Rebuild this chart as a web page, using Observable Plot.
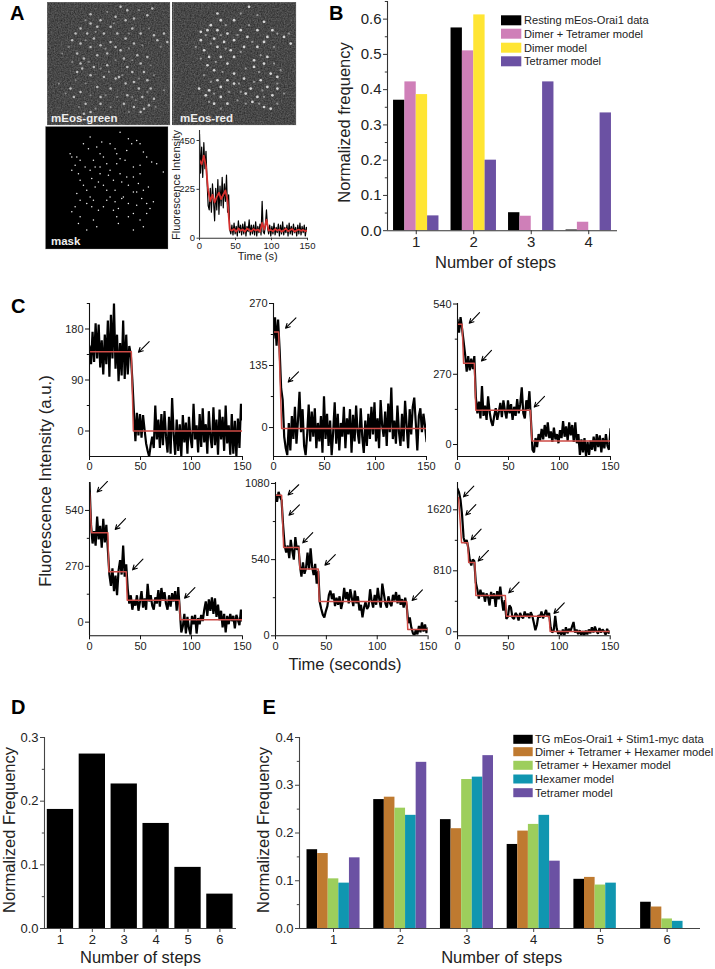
<!DOCTYPE html>
<html><head><meta charset="utf-8">
<script src="https://cdn.jsdelivr.net/npm/d3@7"></script>
<script src="https://cdn.jsdelivr.net/npm/@observablehq/plot@0.6"></script>
<style>
html,body{margin:0;padding:0;background:#fff}
#root{position:relative;width:715px;height:969px;overflow:hidden;font-family:"Liberation Sans",Arial,sans-serif}
#root svg{position:absolute;overflow:visible;background:transparent}
</style></head><body><div id="root"></div>
<script>
// ---------- Panel B ----------
const stepsB=[1,2,3,4];
const restingData=[.370,.575,.051,.002];
const dimerTetramer=[.422,.510,.041,.024];
const dimerModel=[.386,.612,0,0];
const tetramerB=[.042,.200,.422,.334];
const namesB=["Resting mEos-Orai1 data","Dimer + Tetramer model","Dimer model","Tetramer model"];
const colorsB=["#000000","#CF7FB8","#FFE533","#6B51A3"];
// ---------- Panel D ----------
const stepsD=[1,2,3,4,5,6];
const freqD=[.187,.274,.227,.165,.096,.054];
// ---------- Panel E ----------
const stepsE=[1,2,3,4,5,6];
const tgData=[.165,.270,.228,.176,.103,.055];
const dimTetHex=[.157,.275,.209,.204,.107,.045];
const tetHex=[.104,.252,.312,.218,.091,.020];
const hexModel=[.095,.237,.317,.237,.095,.015];
const tetModelE=[.148,.348,.362,.141,null,null];
const namesE=["TG mEos-Orai1 + Stim1-myc data","Dimer + Tetramer + Hexamer model","Tetramer + Hexamer model","Hexamer model","Tetramer model"];
const colorsE=["#000000","#BF7A30","#9DCE5C","#1096B0","#6B51A3"];
// ---------- Panel C traces, one reading every 1.5 s ----------
const traceC1=[150,118,175,122,190,128,188,112,160,100,170,118,195,96,205,128,225,110,170,88,155,98,195,92,170,100,150,135,90,
35,-18,32,-8,30,-12,28,2,-22,-35,-45,-25,-10,-30,45,-15,20,-30,30,-25,35,-10,-38,25,-40,58,-5,-42,20,-35,12,-45,28,-20,15,-40,25,-12,-30,48,-15,10,-38,30,-28,40,-20,12,-40,35,-10,-30,42,-25,20,-42,38,-15,25,-35,45,-22,10,-42,30,-40,18,-45,22,-30,48,20];
const traceC2=[195,240,178,235,170,85,60,-20,-45,-60,10,-50,25,-25,45,-35,15,78,-10,40,-40,-60,-15,50,-30,35,-20,42,-45,10,-30,25,-55,68,-25,30,-40,15,-60,-10,55,-35,30,-50,10,-20,45,-45,20,-15,40,-55,28,-30,48,-10,-35,42,-20,-55,15,-40,30,-25,45,-15,55,-30,20,-45,60,5,-20,35,-40,52,-10,87,-25,15,-35,48,-10,-40,30,-30,58,5,-45,40,-15,45,65,10,-50,25,42,-10,30,5,-30];
const traceC3=[480,430,490,445,395,345,280,340,285,330,290,340,180,120,165,100,225,110,150,95,185,125,90,72,110,140,95,125,160,105,170,130,100,170,120,155,95,145,110,175,120,155,220,120,100,170,135,205,95,-20,-30,25,-10,40,15,60,20,75,30,85,25,50,10,65,20,40,5,55,25,90,30,70,15,85,35,75,10,85,5,40,-40,20,-30,25,-45,10,-40,15,-20,30,-25,40,-10,35,-30,25,-15,40,-5,-20,60];
const traceC4=[675,470,380,440,370,510,400,465,360,500,385,470,350,230,175,260,150,225,130,250,300,230,370,220,280,160,90,130,60,105,80,130,55,100,150,70,115,60,185,100,130,80,60,120,90,155,75,165,110,145,90,60,130,75,140,100,150,55,170,60,-50,-20,40,-55,25,-30,-60,30,-10,35,-55,20,-10,35,5,60,100,30,110,55,120,40,115,25,85,10,55,-25,40,-50,30,-10,40,5,30,-30,35,10,-15,60,5];
const traceC5=[1000,950,1020,985,960,780,640,590,640,550,680,600,540,700,610,640,500,420,520,440,480,590,470,620,490,430,510,370,460,240,190,150,130,175,210,290,320,260,300,210,270,220,280,190,240,340,260,310,230,330,270,210,320,230,280,180,220,130,200,240,190,210,330,250,200,290,220,340,260,200,370,300,230,200,280,230,210,290,250,310,230,290,220,260,200,270,210,90,130,60,20,0,45,10,70,25,95,30,80,20,55];
const traceC6=[1900,1850,1750,1550,1250,1180,1220,1120,960,880,960,940,650,560,440,560,470,520,400,510,460,350,530,440,510,330,540,430,600,430,280,420,170,200,350,320,190,170,250,220,150,250,200,180,270,200,240,180,260,210,120,20,90,220,190,270,180,230,290,200,250,60,-10,20,210,40,-30,10,-40,30,-50,60,-20,40,10,70,130,-10,30,-30,20,-40,10,-50,15,-35,30,-20,60,-10,70,10,-25,50,-10,30,5,-40,40,-20,10];
// ---------- Fitted steps: [time, level] ----------
const fitC1=[[0,140],[41,140],[43,0],[150,0]];
const fitC2=[[0,208],[5,208],[8,-2],[150,-2]];
const fitC3=[[0,462],[4.5,462],[6,312],[16.5,312],[18,132],[71.5,132],[73,14],[150,14]];
const fitC4=[[0,627],[2,432],[18,432],[19,243],[36,243],[37,106],[88,106],[89,11],[150,11]];
const fitC5=[[0,996],[6,996],[8,626],[23,626],[24,474],[42,474],[43,243],[129,243],[130,45],[150,45]];
const fitC6=[[0,1784],[1,1784],[4,1182],[10,1182],[11,921],[17,921],[18,482],[47,482],[48,208],[90,208],[91,4],[150,4]];
// ---------- Arrows: [tail t, tail level, head t, head level] ----------
const arrowsC1=[[58.5,157.6,48,138.9]];
const arrowsC2=[[22,238.8,11.8,216.3],[24.5,121.4,14.4,99]];
const arrowsC3=[[21.6,507,11.5,466],[33.3,362,23.5,321],[85.3,185,75.2,144]];
const arrowsC4=[[17.6,680,7.5,629],[35.3,500,25.2,448],[52.4,305,42.2,253],[103.3,167.4,93.2,116]];
const arrowsC5=[[22.8,1071,12.4,999],[23.5,928,13.3,855],[36.6,732,26.8,659],[58.8,576,48.6,501],[144.4,326,134.3,250]];
const arrowsC6=[[16,1935,5.9,1793],[18,1690,8.2,1550],[23.2,1364,13.4,1222],[30.4,1080,20.3,939],[60.5,660,50.4,518],[104.9,385,94.8,243]];
// ---------- Panel A inset ----------
const insetRaw=[480,300,420,280,440,320,400,260,150,130,230,120,250,170,80,230,130,270,110,240,150,280,140,250,170,290,120,200,40,20,60,15,70,20,55,10,80,25,60,15,65,20,75,10,55,30,85,15,60,20,60,15,75,10,55,25,65,15,170,30,20,60,130,50,20,60,10,55,20,70,15,50,25,65,10,60,20,75,15,50,25,60,10,70,20,55,15,65,25,50,10,60,20,70,15,55,25,60,10,50,30];
const insetSmooth=[360,340,380,330,220,170,200,165,190,210,180,200,220,170,40,35,42,30,45,35,40,30,45,38,32,42,35,40,30,70,40,85,35,38,32,42,35,40,30,36,44,32,38,42,30,36,40,34,38,32,36]; // one reading every 3 s
// ---------- Panel A images: bright spots, read in picture coordinates ----------
const spotsGreen=[[270,42],[360,20],[380,30],[455,25],[300,60],[345,50],[375,60],[400,55],[440,45],[270,70],[240,85],[290,80],[330,80],[395,85],[225,100],[260,100],[310,100],[350,100],[420,100],[460,105],[490,100],[215,120],[280,115],[330,125],[375,115],[470,120],[500,125],[240,130],[270,140],[300,135],[345,140],[360,150],[400,130],[230,160],[250,175],[290,165],[320,160],[370,175],[410,165],[440,170],[240,190],[245,205],[280,200],[320,195],[380,200],[420,190],[230,215],[270,225],[310,230],[345,235],[355,230],[395,215],[430,215],[400,245],[440,240],[375,250],[210,265],[240,275],[290,260],[330,265],[415,265],[450,265],[380,285],[425,290],[460,295],[220,290],[300,290],[255,310],[300,310],[370,310],[400,320],[430,325],[445,315],[250,340],[270,335],[420,335]];
const faintGreen=[[255,60],[320,35],[415,30],[285,95],[340,70],[385,100],[445,85],[205,140],[255,120],[315,145],[385,145],[425,135],[480,140],[215,185],[265,185],[300,205],[345,180],[395,180],[450,195],[225,240],[255,250],[325,215],[365,225],[415,235],[460,225],[195,280],[270,285],[315,285],[350,290],[395,290],[440,275],[235,320],[285,325],[330,320],[385,335],[405,300],[465,320],[185,160],[175,250],[490,270]];
const spotsRed=[[745,20],[650,40],[660,60],[630,75],[700,60],[790,65],[620,90],[650,90],[680,100],[600,95],[720,90],[770,90],[815,90],[600,120],[640,115],[670,125],[700,120],[740,110],[800,110],[850,110],[870,130],[610,150],[650,140],[690,150],[730,140],[770,140],[790,125],[625,170],[660,170],[700,170],[760,180],[800,170],[620,195],[640,210],[680,190],[700,220],[760,200],[790,190],[830,230],[650,240],[680,240],[730,235],[780,240],[810,220],[595,265],[625,270],[660,260],[700,250],[750,265],[800,260],[830,265],[615,285],[660,290],[735,280],[770,290],[815,285],[640,310],[680,310],[755,305],[790,320],[810,325]];
const faintRed=[[720,40],[770,45],[675,75],[745,75],[830,100],[615,105],[660,105],[710,105],[585,140],[630,130],[675,145],[755,125],[820,140],[600,175],[645,185],[720,155],[780,165],[820,190],[610,225],[665,215],[735,205],[775,215],[840,210],[630,245],[715,250],[760,245],[830,250],[640,280],[685,275],[720,275],[785,270],[850,280],[625,305],[710,300],[735,310],[775,310],[830,310],[660,325],[790,290],[865,100]];
const spotsMask=[[270,410],[360,395],[420,430],[210,460],[240,480],[290,440],[330,430],[380,450],[440,470],[470,490],[490,515],[215,510],[270,510],[310,470],[350,490],[400,500],[240,540],[300,520],[340,540],[380,530],[420,520],[260,570],[230,580],[320,570],[370,590],[400,575],[430,570],[215,635],[240,650],[280,600],[310,620],[345,605],[365,595],[440,610],[460,605],[350,650],[400,640],[440,640],[290,680],[260,690],[400,690],[430,680],[410,420],[230,470],[280,480],[350,460],[250,430],[295,545],[275,620],[410,615],[355,625],[385,415],[300,500],[330,510],[255,500],[345,570],[415,550],[385,555],[320,600],[215,470],[265,445],[305,425],[345,445],[395,430],[430,455],[455,485],[225,495],[285,500],[320,490],[375,480],[420,495],[235,520],[275,535],[325,525],[360,520],[400,530],[250,555],[285,560],[310,555],[365,545],[410,575],[445,560],[240,600],[260,610],[295,630],[330,590],[385,610],[425,595],[225,620],[235,670],[280,660],[355,670],[385,650],[420,660],[450,625],[300,460],[360,475],[270,590],[340,630]];

const root=document.getElementById("root");
const FONT='"Liberation Sans",Arial,sans-serif';
const M=40;
function panel({l,r,t,b,xd,yd,xt,yt,xm=[],ym=[],fs=11,fmt=String,col="#111",ts=4,marks=[]}){
  const svg=Plot.plot({width:r-l+2*M,height:b-t+2*M,marginLeft:M,marginRight:M,marginTop:M,marginBottom:M,
    x:{domain:xd},y:{domain:yd},
    style:{position:"absolute",left:(l-M)+"px",top:(t-M)+"px",fontFamily:FONT,background:"transparent",color:col},
    marks:[...marks,
      Plot.axisX({ticks:xt,tickSize:ts,tickPadding:2,fontSize:fs,label:null,tickFormat:String,stroke:col,fill:"#222"}),
      Plot.axisY({ticks:yt,tickSize:ts,tickPadding:2,fontSize:fs,label:null,tickFormat:fmt,stroke:col,fill:"#222"}),
      ...(ym.length?[Plot.axisY({ticks:ym,tickSize:ts*.55,tickFormat:()=>"",label:null,stroke:col})]:[]),
      Plot.ruleX([xd[0]],{stroke:col,strokeWidth:1.1}),Plot.ruleY([yd[0]],{stroke:col,strokeWidth:1.1})]});
  root.appendChild(svg);
}
function groupedBars(cats,series,colors,gw){
  const w=gw/series.length;
  return series.flatMap((vals,s)=>[Plot.rectY(cats.flatMap((c,i)=>vals[i]==null?[]:[{c,v:vals[i]}]),
    {x1:d=>d.c-gw/2+s*w,x2:d=>d.c-gw/2+(s+1)*w,y1:0,y2:"v",fill:colors[s]})]);
}
function trace(vals,fit,arrows,step=1.5){
  return [Plot.line(vals,{x:(d,i)=>i*step,y:d=>d,stroke:"#000",strokeWidth:2.2,strokeLinejoin:"miter",clip:true}),
    Plot.line(fit,{x:d=>d[0],y:d=>d[1],stroke:"#CE4B46",strokeWidth:1.5,clip:true}),
    Plot.arrow(arrows,{x1:d=>d[0],y1:d=>d[1],x2:d=>d[2],y2:d=>d[3],bend:false,headLength:7,headAngle:55,strokeWidth:1.1,stroke:"#000"})];
}
const f1=d3.format(".1f");
// A images: a grain layer under each photo
const under=d3.select(root).append("svg").attr("width",715).attr("height",969).style("left","0").style("top","0");
under.append("filter").attr("id","grain").attr("x",0).attr("y",0).attr("width",1).attr("height",1).attr("color-interpolation-filters","sRGB")
  .call(f=>{f.append("feTurbulence").attr("type","fractalNoise").attr("baseFrequency",.7).attr("numOctaves",2).attr("seed",4);
    f.append("feColorMatrix").attr("values","0 0 0 .3 .13  0 0 0 .3 .13  0 0 0 .3 .13  0 0 0 0 1");});
under.append("rect").attr("x",47).attr("y",2.3).attr("width",122.5).attr("height",122.5).attr("filter","url(#grain)");
under.append("rect").attr("x",172.7).attr("y",2.3).attr("width",122.5).attr("height",122.5).attr("filter","url(#grain)");
function image(l,t,xd,yd,spots,faint,bg,r,fill,op){
  root.appendChild(Plot.plot({width:122.5,height:122.5,margin:0,x:{domain:xd,axis:null},y:{domain:yd,axis:null},
    style:{position:"absolute",left:l+"px",top:t+"px",background:"transparent",filter:"blur(.45px)"},
    marks:[Plot.frame({fill:bg,stroke:"#999",strokeOpacity:.3}),
      Plot.dot(faint,{x:d=>d[0],y:d=>d[1],r:r*.85,fill,fillOpacity:op*.55}),
      Plot.dot(spots,{x:d=>d[0],y:d=>d[1],r,fill,fillOpacity:op})]}));
}
image(47,2.3,[141,508],[374,7],spotsGreen,faintGreen,"none",1.25,"#e4e4e4",.75);
image(172.7,2.3,[518,886],[374,7],spotsRed,faintRed,"none",1.35,"#efefef",.85);
image(45.3,126,[136,504],[747,378],spotsMask,[],"#000",.75,"#f2f2f2",1);
// A inset
panel({l:199,r:307,t:130,b:237.7,xd:[0,150],yd:[0,496],xt:[0,50,100,150],yt:[0,225,450],fs:9.5,ts:2.5,col:"#333",marks:[
  Plot.line(insetRaw,{x:(d,i)=>i*1.5,y:d=>d,stroke:"#000",strokeWidth:1.2,clip:true}),
  Plot.line(insetSmooth,{x:(d,i)=>i*3,y:d=>d,stroke:"#D6302E",strokeWidth:1.8,clip:true})]});
// B
panel({l:387,r:617,t:.5,b:229.7,xd:[.5,4.5],yd:[0,.65],xt:stepsB,yt:[0,.1,.2,.3,.4,.5,.6],ym:[.05,.15,.25,.35,.45,.55,.65],fs:15,fmt:f1,col:"#333",
  marks:groupedBars(stepsB,[restingData,dimerTetramer,dimerModel,tetramerB],colorsB,.79)});
// C
const cx=[0,150],ct=[0,50,100,150];
panel({l:89.3,r:242.3,t:303.3,b:456.3,xd:cx,yd:[-45,225],xt:ct,yt:[0,90,180],ym:[45,135,225],marks:trace(traceC1,fitC1,arrowsC1)});
panel({l:273.3,r:426.3,t:303.3,b:456.3,xd:cx,yd:[-63,270],xt:ct,yt:[0,135,270],ym:[67.5,202.5],marks:trace(traceC2,fitC2,arrowsC2)});
panel({l:457,r:610,t:303.3,b:456.3,xd:cx,yd:[-46,542],xt:ct,yt:[0,270,540],ym:[135,405],marks:trace(traceC3,fitC3,arrowsC3)});
panel({l:89.3,r:242.3,t:481.7,b:635,xd:cx,yd:[-66,675],xt:ct,yt:[0,270,540],ym:[135,405],marks:trace(traceC4,fitC4,arrowsC4)});
panel({l:274.7,r:427.3,t:481.7,b:635,xd:cx,yd:[0,1087],xt:ct,yt:[0,540,1080],ym:[270,810],marks:trace(traceC5,fitC5,arrowsC5)});
panel({l:457.3,r:610,t:481.7,b:635,xd:cx,yd:[-53,1983],xt:ct,yt:[0,810,1620],ym:[405,1215],marks:trace(traceC6,fitC6,arrowsC6)});
// D
panel({l:44,r:236,t:736.7,b:927.7,xd:[.5,6.52],yd:[0,.3],xt:stepsD,yt:[0,.1,.2,.3],ym:[.05,.15,.25],fs:13,fmt:f1,col:"#444",
  marks:groupedBars(stepsD,[freqD],["#000"],.825)});
// E
panel({l:299,r:700,t:736.7,b:927.7,xd:[.49,6.5],yd:[0,.4],xt:stepsE,yt:[0,.1,.2,.3,.4],ym:[.05,.15,.25,.35],fs:13,fmt:f1,col:"#444",
  marks:groupedBars(stepsE,[tgData,dimTetHex,tetHex,hexModel,tetModelE],colorsE,.795)});

// overlay: letters, axis titles, legends, image captions
const ov=d3.select(root).append("svg").attr("width",715).attr("height",969).style("left","0").style("top","0").style("font-family",FONT);
function txt(x,y,s,{size=16.5,anchor="start",rot=0,weight=400,fill="#222"}={}){
  ov.append("text").attr("transform",`translate(${x},${y}) rotate(${rot})`).attr("text-anchor",anchor)
    .attr("font-size",size).attr("font-weight",weight).attr("fill",fill).text(s);
}
[["A",10,20],["B",329,20],["C",11,313],["D",11,714],["E",262.5,714]].forEach(([s,x,y])=>txt(x,y,s,{size:20,weight:700,fill:"#000"}));
txt(51,122,"mEos-green",{size:11.5,fill:"#eee",weight:700});
txt(180,122,"mEos-red",{size:11.5,fill:"#eee",weight:700});
txt(51,245,"mask",{size:11.5,fill:"#eee",weight:700});
txt(179.7,185,"Fluorescence Intensity",{size:11,anchor:"middle",rot:-90});
txt(257.7,260,"Time (s)",{size:11,anchor:"middle"});
txt(495.5,268,"Number of steps",{anchor:"middle"});
txt(350,122.5,"Normalized frequency",{anchor:"middle",rot:-90});
txt(51,481,"Fluorescence Intensity (a.u.)",{size:16.8,anchor:"middle",rot:-90});
txt(345,670,"Time (seconds)",{anchor:"middle"});
txt(140.5,963,"Number of steps",{anchor:"middle"});
txt(14.5,830,"Normalized Frequency",{anchor:"middle",rot:-90});
txt(501.7,963,"Number of steps",{anchor:"middle"});
txt(269,830,"Normalized Frequency",{anchor:"middle",rot:-90});
namesB.forEach((n,i)=>{const y=[20.3,33.7,47.7,61.3][i];
  ov.append("rect").attr("x",501).attr("y",y-5).attr("width",20.3).attr("height",10).attr("fill",colorsB[i]);
  txt(524,y+4,n,{size:11.1});});
namesE.forEach((n,i)=>{const y=[739.3,751.7,765.3,779,792.7][i];
  ov.append("rect").attr("x",513.3).attr("y",y-4.5).attr("width",19.4).attr("height",9).attr("fill",colorsE[i]);
  txt(535,y+4,n,{size:11.2});});
</script></body></html>
